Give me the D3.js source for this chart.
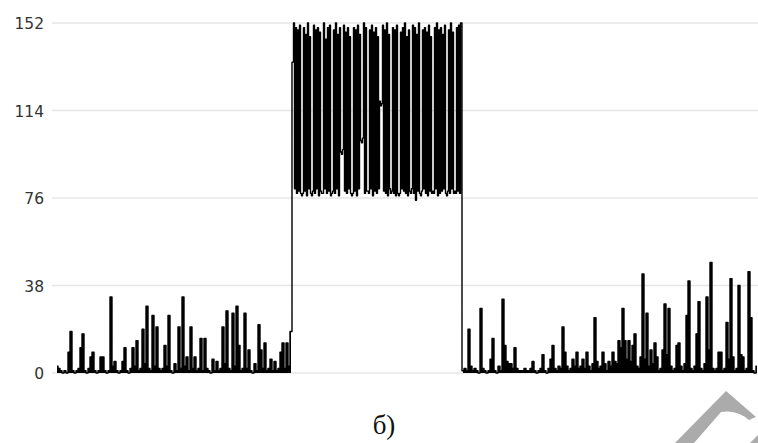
<!DOCTYPE html>
<html>
<head>
<meta charset="utf-8">
<script src="https://cdn.jsdelivr.net/npm/d3@7"></script>
<style>
  body { margin: 0; background: #fff; }
  .tick-label { font-family: "DejaVu Sans", sans-serif; font-size: 15.5px; fill: #333; }
  .caption { font-family: "Liberation Serif", "DejaVu Serif", serif; font-size: 27px; fill: #111; }
</style>
</head>
<body>
<div id="chart"></div>
<script>
// y axis ticks
const yTicks = [0, 38, 76, 114, 152];

// signal; time in samples
const leftStart = 0, leftStep = 2;
const leftVals = [
  3, 2, 1, 0, 1, 0, 9, 18, 1, 0, 1, 2, 11, 17, 1, 0, 2, 7, 9, 1,
  0, 1, 7, 7, 1, 0, 1, 33, 3, 5, 1, 0, 1, 5, 11, 1, 0, 2, 11, 3,
  14, 1, 2, 19, 4, 29, 2, 1, 25, 3, 20, 2, 1, 2, 12, 3, 25, 1, 0, 4,
  1, 20, 2, 33, 3, 7, 1, 20, 2, 7, 1, 2, 15, 1, 15, 2, 1, 0, 6, 1,
  5, 1, 2, 20, 4, 27, 2, 1, 26, 3, 29, 12, 1, 2, 26, 2, 10, 1, 0, 4,
  1, 21, 10, 2, 13, 1, 2, 6, 1, 5, 1, 2, 9, 13, 2, 13, 3, 18
];

const midStart = 236, midStep = 1;
const midVals = [
  135, 152, 80, 150, 78, 149, 79, 151, 78, 77, 78, 150, 79, 147, 77, 152, 80, 146, 78, 77,
  79, 151, 78, 149, 80, 150, 77, 148, 79, 78, 78, 152, 80, 145, 78, 150, 79, 151, 77, 78,
  79, 149, 78, 152, 80, 147, 77, 150, 96, 95, 97, 151, 79, 148, 78, 150, 80, 146, 78, 77,
  78, 150, 79, 149, 77, 151, 80, 147, 101, 100, 102, 152, 78, 150, 79, 79, 78, 149, 80, 151,
  77, 148, 79, 150, 78, 146, 80, 118, 116, 117, 151, 79, 149, 78, 152, 77, 147, 80, 78, 79,
  150, 78, 149, 77, 151, 78, 77, 78, 148, 80, 150, 79, 152, 78, 146, 77, 149, 79, 78, 80,
  151, 78, 150, 75, 147, 79, 152, 78, 77, 79, 149, 80, 150, 78, 148, 77, 151, 79, 146, 78,
  79, 78, 150, 80, 152, 77, 149, 78, 150, 79, 147, 80, 151, 78, 77, 79, 149, 78, 152, 80,
  148, 78, 79, 78, 150, 79, 151, 78, 152
];

const rightStart = 406, rightStep = 2;
const rightVals = [
  1, 2, 1, 19, 3, 1, 2, 1, 0, 28, 2, 1, 0, 1, 6, 15, 1, 0, 3, 1,
  32, 12, 5, 4, 4, 2, 11, 2, 1, 1, 1, 2, 1, 1, 2, 5, 1, 0, 1, 2,
  8, 1, 0, 2, 6, 12, 2, 1, 3, 2, 20, 9, 3, 1, 2, 6, 3, 9, 2, 3,
  6, 2, 9, 3, 1, 4, 24, 5, 2, 3, 9, 4, 1, 5, 3, 9, 5, 4, 14, 11,
  28, 14, 6, 14, 5, 12, 17, 3, 2, 7, 43, 6, 26, 3, 10, 4, 13, 7, 1, 2,
  10, 30, 8, 28, 3, 1, 2, 12, 13, 3, 1, 4, 25, 40, 2, 1, 3, 17, 31, 2,
  1, 4, 33, 10, 48, 2, 1, 2, 9, 9, 1, 2, 22, 6, 41, 7, 1, 2, 38, 8,
  7, 1, 2, 44, 24, 1, 0, 3
];

const width = 758;
const height = 443;

const svg = d3.select("#chart")
  .append("svg")
  .attr("width", width)
  .attr("height", height);

const xScale = d3.scaleLinear()
  .domain([0, 701])
  .range([57, 758]);

const yScale = d3.scaleLinear()
  .domain([0, 152])
  .range([373, 23]);

// build (t, v) points from the three segments
const leftPts = leftVals.map((v, i) => [leftStart + i * leftStep, v]);
const midPts = midVals.map((v, i) => [midStart + i * midStep, v]);
const rightPts = rightVals.map((v, i) => [rightStart + i * rightStep, v]);
const points = leftPts.concat(midPts, rightPts);

// grid
svg.append("g")
  .selectAll("line")
  .data(yTicks)
  .enter()
  .append("line")
  .attr("x1", 52)
  .attr("x2", width)
  .attr("y1", d => yScale(d))
  .attr("y2", d => yScale(d))
  .attr("stroke", "#e6e6e6")
  .attr("stroke-width", 1.6);

// tick labels
const yAxis = svg.append("g")
  .attr("transform", "translate(44,0)")
  .call(d3.axisLeft(yScale).tickValues(yTicks).tickSize(0).tickPadding(0));
yAxis.select(".domain").remove();
yAxis.selectAll("text")
  .attr("class", "tick-label")
  .attr("font-family", null)
  .attr("font-size", null)
  .attr("fill", null)
  .attr("dy", "0.36em");

// the sparse spikes read as solid bars in the picture
const area = d3.area()
  .curve(d3.curveStep)
  .x(d => xScale(d[0]))
  .y0(yScale(0))
  .y1(d => yScale(d[1]));

svg.selectAll(".spikes")
  .data([leftPts, rightPts])
  .enter()
  .append("path")
  .attr("class", "spikes")
  .attr("fill", "#000")
  .attr("d", area);

// signal
const line = d3.line()
  .curve(d3.curveStep)
  .x(d => xScale(d[0]))
  .y(d => yScale(d[1]));

svg.append("path")
  .datum(points)
  .attr("fill", "none")
  .attr("stroke", "#000")
  .attr("stroke-width", 1.4)
  .attr("stroke-linejoin", "round")
  .attr("d", line);

// caption
svg.append("text")
  .attr("class", "caption")
  .attr("x", 384)
  .attr("y", 434)
  .attr("text-anchor", "middle")
  .text("б)");

// grey corner mark from the scanned page
svg.append("path")
  .attr("d", "M675,443 L726,391 L756,417 L749,420 C742,414 733,410 721,412 L694,443 Z M750,443 L758,435 L758,443 Z")
  .attr("fill", "#ababab");
</script>
</body>
</html>
